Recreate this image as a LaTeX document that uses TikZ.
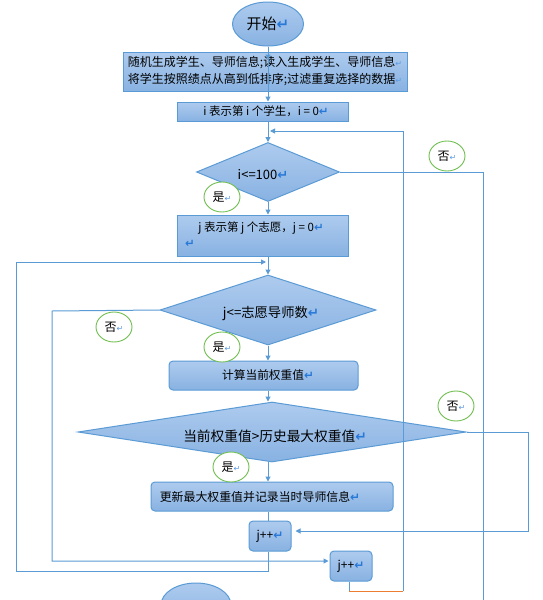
\documentclass[tikz,border=0pt]{standalone}
\usepackage{fontspec}
\setmainfont{Noto Sans CJK SC}
\newfontfamily\dejavu{DejaVu Sans}
\usetikzlibrary{shapes.geometric,arrows.meta,calc}
\definecolor{lineb}{RGB}{91,155,213}
\definecolor{boxtop}{RGB}{174,203,238}
\definecolor{boxbot}{RGB}{136,178,226}
\definecolor{circg}{RGB}{112,190,80}
\definecolor{retc}{RGB}{40,120,215}
\definecolor{orng}{RGB}{237,125,49}
\newcommand\retmark{{\dejavu\bfseries\color{retc}↵}}
\newcommand\sretmark{{\dejavu\fontsize{8}{8}\selectfont\color{retc!75}↵}}
\begin{document}
\begin{tikzpicture}[x=1pt,y=-1pt,
  every node/.style={inner sep=0pt},
  box/.style={draw=lineb, line width=1pt, top color=boxtop, bottom color=boxbot, text=black, align=center},
  rbox/.style={box, rounded corners=4pt},
  dia/.style={box, diamond},
  oval/.style={box, ellipse},
  yn/.style={ellipse, draw=circg, line width=0.9pt, fill=white, minimum width=36pt, minimum height=30pt, font=\fontsize{12}{12}\selectfont},
  conn/.style={draw=lineb, line width=1pt},
  arr/.style={conn, -{Triangle[length=5pt,width=5pt]}},
  oconn/.style={draw=orng, line width=1pt},
]
\useasboundingbox (0,0) rectangle (542,600);
\clip (0,0) rectangle (542,600);
\fill[white] (0,0) rectangle (542,600);

% nodes
\node[oval, minimum width=71pt, minimum height=44pt, font=\fontsize{15}{15}\selectfont] (start) at (268,24) {开始\retmark};
\node[box, minimum width=284pt, minimum height=39pt, font=\fontsize{12}{17}\selectfont] (b1) at (265,71.5)
  {随机生成学生、导师信息;读入生成学生、导师信息\sretmark\\将学生按照绩点从高到低排序;过滤重复选择的数据\sretmark};
\node[box, minimum width=171pt, minimum height=19pt, font=\fontsize{11.5}{11.5}\selectfont] (b2) at (262.5,111.5)
  {\hspace*{7pt}i 表示第 i 个学生，i = 0\retmark};
\node[dia, minimum width=143pt, minimum height=59pt,
  label={[font=\fontsize{13}{13}\selectfont, xshift=-5pt, yshift=-3pt]center:{i<=100\retmark}}] (d1) at (268,172) {};
\node[box, minimum width=171pt, minimum height=41pt] (b3) at (262.5,235.5) {};
\node[font=\fontsize{11.5}{11.5}\selectfont] (b3t) at (261,228) {j 表示第 j 个志愿，j = 0\retmark};
\node[font=\fontsize{11.5}{11.5}\selectfont] (b3r) at (190,244) {\retmark};
\node[dia, minimum width=216pt, minimum height=70pt,
  label={[font=\fontsize{13.3}{13.3}\selectfont, xshift=3pt, yshift=-4pt]center:{j<=志愿导师数\retmark}}] (d2) at (268,310) {};
\node[rbox, minimum width=189pt, minimum height=29pt, font=\fontsize{11.7}{11.7}\selectfont] (b4) at (263.5,375.5)
  {\hspace*{9pt}计算当前权重值\retmark};
\node[dia, minimum width=388pt, minimum height=60pt,
  label={[font=\fontsize{13.7}{13.7}\selectfont, xshift=3pt, yshift=-4pt]center:{当前权重值>历史最大权重值\retmark}}] (d3) at (272,432) {};
\node[rbox, minimum width=242pt, minimum height=29pt, font=\fontsize{11.9}{11.9}\selectfont] (b5) at (272,496.5)
  {更新最大权重值并记录当时导师信息\retmark\hspace*{24pt}};
\node[rbox, minimum width=42pt, minimum height=30pt, font=\fontsize{12}{12}\selectfont] (b6) at (270,536) {j++\retmark};
\node[rbox, minimum width=42pt, minimum height=30pt, font=\fontsize{12}{12}\selectfont] (b7) at (351,566) {j++\retmark};
\node[oval, minimum width=70pt, minimum height=44pt] (end) at (196,605) {};

% free ends
\coordinate (exitI) at (483,610);
\coordinate (mI) at (270,131);
\coordinate (rI) at (403,131);
\coordinate (cI) at (403,591);
\coordinate (cJ) at (349,591);
\coordinate (mJ) at (266,262);
\coordinate (lJa) at (16,262);
\coordinate (lJb) at (16,571);
\coordinate (lJc) at (268,571);
\coordinate (lKa) at (52,311);
\coordinate (lKb) at (52,561);
\coordinate (rKa) at (528,432);
\coordinate (rKb) at (528,531);

% main axis
\draw[arr] (start.south) -- ($(start.south|-b1.north)+(0,8)$);
\draw[arr] (start.south) -- (start.south|-b2.north);
\draw[arr] (b2.south-|d1.north) -- (d1.north);
\draw[arr] (d1.south) -- (d1.south|-b3.north);
\draw[arr] (b3.south-|d2.north) -- (d2.north);
\draw[arr] (d2.south) -- (d2.south|-b4.north);
\draw[arr] (b4.south-|d2.south) -- (d2.south|-d3.north);
\draw[arr] ($(d3.south-|d2.south)+(0,-1)$) -- (d2.south|-b5.north);
\draw[conn] (b5.south-|d2.south) -- (d2.south|-b6.north);

% loops
\draw[conn] (d1.east) -| (exitI);
\draw[conn] (b7.south-|cJ) -- (cJ);
\draw[arr] (cI) -- (rI) -- (mI);
\draw[oconn, shorten >=0.5pt] (cJ) -- (cI);
\draw[arr] (b6.south-|lJc) -- (lJc) -- (lJb) -- (lJa) -- (mJ);
\draw[arr] (d2.west) -- (lKa) -- (lKb) -- ($(b7.west)+(-1,-5)$);
\draw[arr] (d3.east) -- (rKa) -- (rKb) -- ($(b6.east)+(4,-5)$);

% yes / no labels
\node[yn] (y1) at (222,197) {是\sretmark};
\node[yn] (n1) at (447,156) {否\sretmark};
\node[yn] (n2) at (114,327) {否\sretmark};
\node[yn] (y2) at (222,347) {是\sretmark};
\node[yn] (y3) at (231,467) {是\sretmark};
\node[yn] (n3) at (456,406) {否\sretmark};
\end{tikzpicture}
\end{document}
